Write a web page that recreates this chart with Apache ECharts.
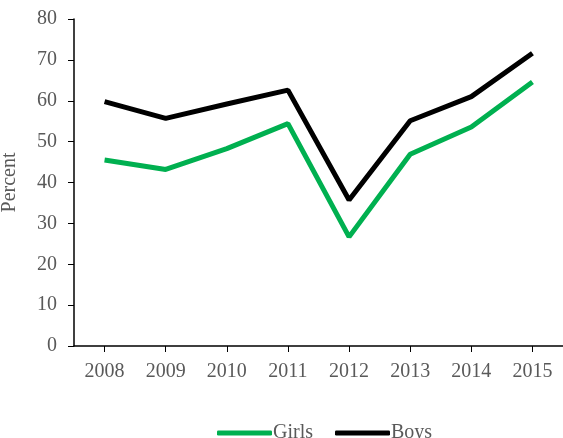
<!DOCTYPE html>
<html>
<head>
<meta charset="utf-8">
<script src="https://cdn.jsdelivr.net/npm/echarts@6/dist/echarts.min.js"></script>
<style>
  html, body { margin: 0; padding: 0; background: #fff; }
  #chart { width: 563px; height: 438px; }
</style>
</head>
<body>
<div id="chart"></div>
<script>
  const years = ['2008', '2009', '2010', '2011', '2012', '2013', '2014', '2015'];
  const girls = [45.5, 43.2, 48.3, 54.4, 26.7, 46.9, 53.6, 64.6];
  const boys  = [59.8, 55.7, 59.2, 62.6, 35.7, 55.1, 61.0, 71.6];

  const FONT = "'Liberation Serif', 'Times New Roman', serif";
  const TEXT = '#595959';
  const GREEN = '#00B050';
  const BLACK = '#000000';

  const chart = echarts.init(document.getElementById('chart'));
  chart.setOption({
    animation: false,
    textStyle: { fontFamily: FONT },
    grid: { left: 74, right: 0, top: 19, bottom: 92, containLabel: false, outerBoundsMode: 'none' },
    legend: {
      top: 418,
      left: 212,
      itemWidth: 55,
      itemHeight: 5,
      itemGap: 22,
      icon: 'roundRect',
      textStyle: { fontFamily: FONT, fontSize: 20, color: TEXT, padding: [0, 0, 0, -4] },
      data: ['Girls', 'Boys']
    },
    xAxis: {
      type: 'category',
      data: years,
      boundaryGap: true,
      axisLine: { lineStyle: { color: '#000', width: 1.5 } },
      axisTick: { show: true, alignWithLabel: true, length: 6, lineStyle: { color: '#000' } },
      axisLabel: { fontFamily: FONT, fontSize: 20, color: TEXT, margin: 16 }
    },
    yAxis: {
      type: 'value',
      min: 0,
      max: 80,
      interval: 10,
      name: 'Percent',
      nameLocation: 'middle',
      nameGap: 54,
      nameTextStyle: { fontFamily: FONT, fontSize: 20, color: TEXT },
      axisLine: { show: true, lineStyle: { color: '#000', width: 1.5 } },
      axisTick: { show: true, length: 6, lineStyle: { color: '#000' } },
      splitLine: { show: false },
      axisLabel: { fontFamily: FONT, fontSize: 20, color: TEXT, margin: 17 }
    },
    series: [
      {
        name: 'Girls',
        type: 'line',
        data: girls,
        symbol: 'none',
        color: GREEN,
        lineStyle: { color: GREEN, width: 5 }
      },
      {
        name: 'Boys',
        type: 'line',
        data: boys,
        symbol: 'none',
        color: BLACK,
        lineStyle: { color: BLACK, width: 5 }
      }
    ]
  });
</script>
</body>
</html>
